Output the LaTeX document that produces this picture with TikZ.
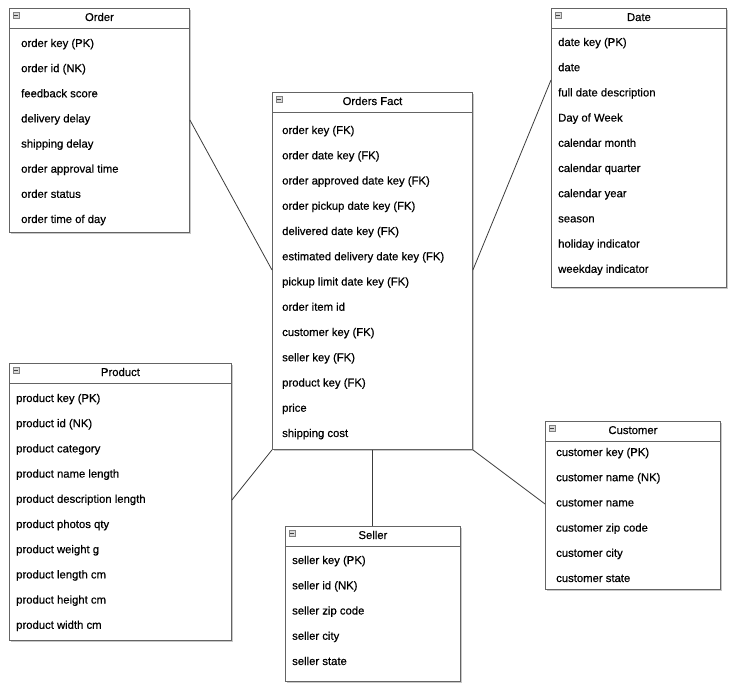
\documentclass[tikz,border=0pt]{standalone}
\usepackage{fontspec}
\setmainfont{Liberation Sans}
\newfontfamily\erfont{Liberation Sans}[BoldFont={Liberation Sans}, BoldFeatures={FakeBold=0.5}]
\usetikzlibrary{positioning,calc,shadows}

\definecolor{boxgray}{RGB}{100,100,100}
\definecolor{linegray}{RGB}{60,60,60}
\definecolor{shadegray}{RGB}{200,200,200}

\begin{document}
\begin{tikzpicture}[x=1pt, y=-1pt,
  tbl/.style={draw=boxgray, line width=0.9pt, fill=white, inner sep=0pt, anchor=north west,
    drop shadow={shadow xshift=1.5pt, shadow yshift=-1.5pt, fill=shadegray, opacity=1}},
  hdr/.style={inner sep=0pt, text height=8pt, text depth=0pt,
    font=\erfont\bfseries\fontsize{11.3}{13}\selectfont},
  item/.style={anchor=west, inner sep=0pt, text height=8pt, text depth=0pt,
    font=\erfont\bfseries\fontsize{11.3}{13}\selectfont},
  icon/.style={draw=gray, fill=gray!30, line width=0.5pt, inner sep=0pt,
    minimum width=6pt, minimum height=6pt, anchor=north west,
    path picture={\draw[black!75, line width=1.2pt] ([xshift=0.8pt]path picture bounding box.west)
      -- ([xshift=-0.8pt]path picture bounding box.east);}},
  sep/.style={draw=boxgray, line width=0.9pt},
  link/.style={draw=linegray, line width=0.8pt}]

\useasboundingbox (0,0) rectangle (745,687);

 %Order
 \node[tbl, minimum width=180pt, minimum height=224pt] (order) at (9,8) {};
 \node[icon, below right=4pt and 3.5pt of order.north west] (order-icon) {};
 \node[hdr] (order-title) at ([yshift=-9pt]order.north) {Order};
 \path[sep] ([yshift=-20pt]order.north west) -- ([yshift=-20pt]order.north east);
 \foreach \t [count=\i] in {order key (PK), order id (NK), feedback score, delivery delay,
   shipping delay, order approval time, order status, order time of day}
   \node[item] (order-\i) at ($(order.north west)+(12,35+25.14*\i-25.14)$) {\t};

 %Orders Fact
 \node[tbl, minimum width=200pt, minimum height=357pt] (fact) at (272,92) {};
 \node[icon, below right=4pt and 3.5pt of fact.north west] (fact-icon) {};
 \node[hdr] (fact-title) at ([yshift=-9pt]fact.north) {Orders Fact};
 \path[sep] ([yshift=-20pt]fact.north west) -- ([yshift=-20pt]fact.north east);
 \foreach \t [count=\i] in {order key (FK), order date key (FK), order approved date key (FK),
   order pickup date key (FK), delivered date key (FK), estimated delivery date key (FK),
   pickup limit date key (FK), order item id, customer key (FK), seller key (FK),
   product key (FK), price, shipping cost}
   \node[item] (fact-\i) at ($(fact.north west)+(10,38+25.25*\i-25.25)$) {\t};

 %Date
 \node[tbl, minimum width=175pt, minimum height=279pt] (date) at (551,8) {};
 \node[icon, below right=4pt and 3.5pt of date.north west] (date-icon) {};
 \node[hdr] (date-title) at ([yshift=-9pt]date.north) {Date};
 \path[sep] ([yshift=-20pt]date.north west) -- ([yshift=-20pt]date.north east);
 \foreach \t [count=\i] in {date key (PK), date, full date description, Day of Week,
   calendar month, calendar quarter, calendar year, season, holiday indicator, weekday indicator}
   \node[item] (date-\i) at ($(date.north west)+(7,34+25.2*\i-25.2)$) {\t};

 %Product
 \node[tbl, minimum width=222pt, minimum height=277pt] (product) at (9,363) {};
 \node[icon, below right=4pt and 3.5pt of product.north west] (product-icon) {};
 \node[hdr] (product-title) at ([yshift=-9pt]product.north) {Product};
 \path[sep] ([yshift=-20pt]product.north west) -- ([yshift=-20pt]product.north east);
 \foreach \t [count=\i] in {product key (PK), product id (NK), product category,
   product name length, product description length, product photos qty, product weight g,
   product length cm, product height cm, product width cm}
   \node[item] (product-\i) at ($(product.north west)+(7,35+25.2*\i-25.2)$) {\t};

 %Seller
 \node[tbl, minimum width=175pt, minimum height=155pt] (seller) at (285,526) {};
 \node[icon, below right=4pt and 3.5pt of seller.north west] (seller-icon) {};
 \node[hdr] (seller-title) at ([yshift=-9pt]seller.north) {Seller};
 \path[sep] ([yshift=-20pt]seller.north west) -- ([yshift=-20pt]seller.north east);
 \foreach \t [count=\i] in {seller key (PK), seller id (NK), seller zip code, seller city, seller state}
   \node[item] (seller-\i) at ($(seller.north west)+(7,34+25.25*\i-25.25)$) {\t};

 %Customer
 \node[tbl, minimum width=175pt, minimum height=168pt] (customer) at (545,421) {};
 \node[icon, below right=4pt and 3.5pt of customer.north west] (customer-icon) {};
 \node[hdr] (customer-title) at ([yshift=-9pt]customer.north) {Customer};
 \path[sep] ([yshift=-20pt]customer.north west) -- ([yshift=-20pt]customer.north east);
 \foreach \t [count=\i] in {customer key (PK), customer name (NK), customer name,
   customer zip code, customer city, customer state}
   \node[item] (customer-\i) at ($(customer.north west)+(11,31+25.2*\i-25.2)$) {\t};

 %links
 \path[link] ([yshift=-112pt]order.north east) -- ([yshift=-178pt]fact.north west);
 \path[link] ([yshift=-178pt]fact.north east) -- ([yshift=-72pt]date.north west);
 \path[link] (fact.south west) -- ([yshift=-137pt]product.north east);
 \path[link] (fact.south) -- (fact.south |- seller.north);
 \path[link] (fact.south east) -- ([yshift=-83pt]customer.north west);

\end{tikzpicture}
\end{document}
